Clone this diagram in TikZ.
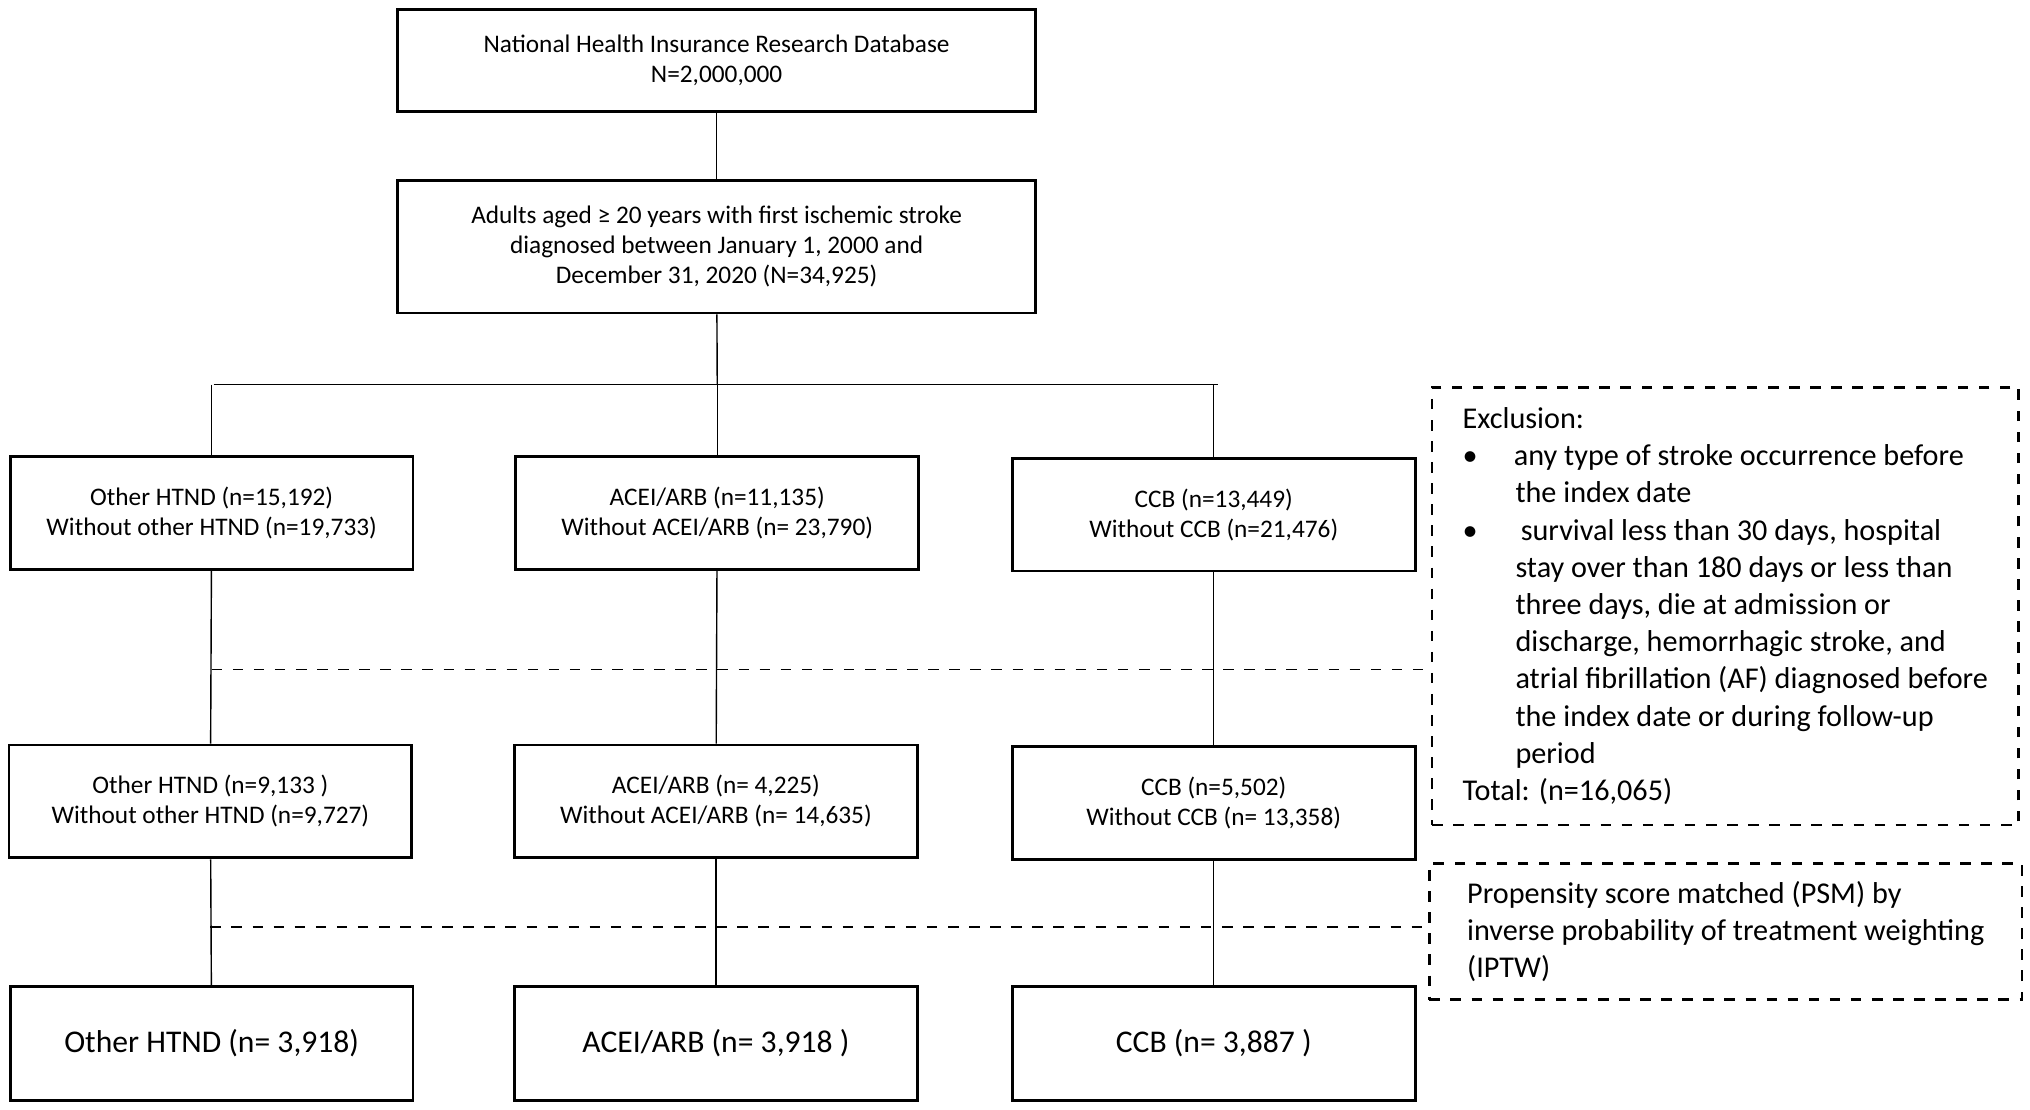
\documentclass[tikz,border=0pt]{standalone}
\usepackage{fontspec}
\setmainfont{Carlito}
\begin{document}
\begin{tikzpicture}[x=0.01295cm,y=-0.01295cm,
  box/.style={draw,thick,align=center,inner sep=2pt,font=\fontsize{7.2}{8.6}\selectfont},
  small/.style={box,minimum width=4.03cm,minimum height=1.13cm},
  big/.style={box,minimum width=4.03cm,minimum height=1.14cm,font=\fontsize{9}{11}\selectfont},
  note/.style={draw,thick,dashed,align=left,anchor=north west,inner sep=5pt,font=\fontsize{8.6}{10.6}\selectfont}]
\useasboundingbox (0,0) rectangle (1568,857);
% source and cohort
\node[box,minimum width=6.38cm,minimum height=1.02cm] (db) at (553.5,46.5) {National Health Insurance Research Database\\N=2,000,000};
\node[box,minimum width=6.38cm,minimum height=1.33cm] (cohort) at (553.5,190.5) {Adults aged ≥ 20 years with first ischemic stroke\\diagnosed between January 1, 2000 and\\December 31, 2020 (N=34,925)};
% first row
\node[small] (oa) at (163.5,396.5) {Other HTND (n=15,192)\\Without other HTND (n=19,733)};
\node[small] (aa) at (554,396.5) {ACEI/ARB (n=11,135)\\Without ACEI/ARB (n= 23,790)};
\node[small] (ca) at (937.5,397.5) {CCB (n=13,449)\\Without CCB (n=21,476)};
% second row
\node[small] (ob) at (162.5,619) {Other HTND (n=9,133 )\\Without other HTND (n=9,727)};
\node[small] (ab) at (553,619) {ACEI/ARB (n= 4,225)\\Without ACEI/ARB (n= 14,635)};
\node[small] (cb) at (937.5,620) {CCB (n=5,502)\\Without CCB (n= 13,358)};
% matched
\node[big] (oc) at (163.5,806) {Other HTND (n= 3,918)};
\node[big] (ac) at (553,806) {ACEI/ARB (n= 3,918 )};
\node[big] (cc) at (937.5,806) {CCB (n= 3,887 )};
% notes
\node[note,minimum width=5.87cm,minimum height=4.38cm] (excl) at (1105,298) {Exclusion:\\
\textbullet\hspace{1.2em}any type of stroke occurrence before\\
\hspace{1.75em}the index date\\
\textbullet\hspace{1.2em} survival less than 30 days, hospital\\
\hspace{1.75em}stay over than 180 days or less than\\
\hspace{1.75em}three days, die at admission or\\
\hspace{1.75em}discharge, hemorrhagic stroke, and\\
\hspace{1.75em}atrial fibrillation (AF) diagnosed before\\
\hspace{1.75em}the index date or during follow-up\\
\hspace{1.75em}period\\
Total: (n=16,065)};
\node[note,minimum width=5.93cm,minimum height=1.36cm] (psm) at (1103,666) {Propensity score matched (PSM) by\\inverse probability of treatment weighting\\(IPTW)};
% connectors
\coordinate (split) at (554,297);
\draw (db) -- (cohort);
\draw (cohort) -- (split);
\draw (165,297) -- (941,297);
\draw (oa.north |- split) -- (oa);
\draw (aa.north |- split) -- (aa);
\draw (ca.north |- split) -- (ca);
\foreach \u/\v in {oa/ob,aa/ab,ca/cb,ob/oc,ab/ac,cb/cc}
  \draw (\u) -- (\v);
\coordinate (ex) at (excl.west |- 0,517);
\coordinate (pm) at (psm.west |- 0,716);
\draw[dashed] (oa.south |- ex) -- (ex);
\draw[dashed] (ob.south |- pm) -- (pm);
\end{tikzpicture}
\end{document}
